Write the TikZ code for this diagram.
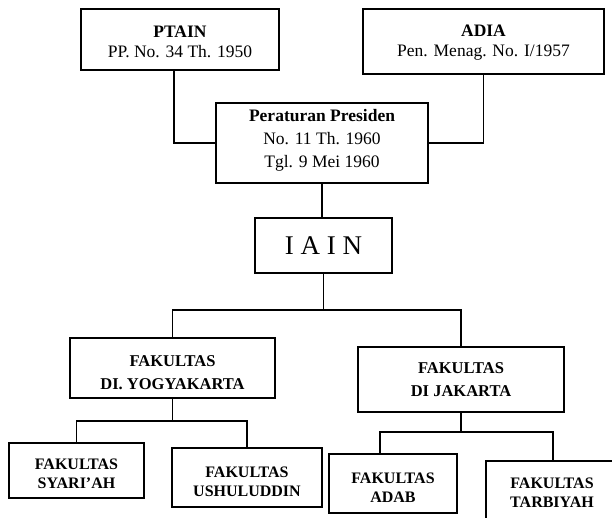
\documentclass[tikz,border=0pt]{standalone}
\usepackage{fontspec}
\setmainfont{Liberation Serif}
\begin{document}
\begin{tikzpicture}[x=1pt,y=-1pt,
  box/.style={draw, line width=1.5pt, rectangle, inner sep=0pt},
  txt/.style={align=center, inner sep=0pt},
  link/.style={line width=1.5pt},
  toptxt/.style={txt, font=\fontsize{17.5}{20}\selectfont},
  perptxt/.style={txt, font=\fontsize{17.5}{23}\selectfont},
  midtxt/.style={txt, font=\fontsize{16.5}{23}\selectfont\bfseries},
  bottxt/.style={txt, font=\fontsize{16}{19}\selectfont\bfseries}]
\useasboundingbox (0,0) rectangle (612,517);
\clip (0,0) rectangle (612,517);
% boxes
\node[box, minimum width=198pt, minimum height=61pt] (ptain) at (180,39.5) {};
\node[box, minimum width=241pt, minimum height=65pt] (adia) at (483.5,41.5) {};
\node[box, minimum width=212pt, minimum height=80pt] (perpres) at (322,143) {};
\node[box, minimum width=137pt, minimum height=55pt] (iain) at (323.5,245.5) {};
\node[box, minimum width=205pt, minimum height=60pt] (yogya) at (172.5,368) {};
\node[box, minimum width=206pt, minimum height=65pt] (jakarta) at (461,379.5) {};
\node[box, minimum width=135pt, minimum height=55pt] (syariah) at (76.5,470.5) {};
\node[box, minimum width=150pt, minimum height=59pt] (ushul) at (247,477.5) {};
\node[box, minimum width=128pt, minimum height=59pt] (adab) at (393,483.5) {};
\node[box, minimum width=134pt, minimum height=64pt] (tarbiyah) at (553,493) {};
% texts
\node[toptxt] (ptain-t) at ([yshift=-2.5pt]ptain.center) {\textbf{PTAIN}\\PP. No. 34 Th. 1950};
\node[toptxt] (adia-t) at ([yshift=-1pt]adia.center) {\textbf{ADIA}\\Pen. Menag. No. I/1957};
\node[perptxt] (perpres-t) at ([yshift=3pt]perpres.center) {\textbf{Peraturan Presiden}\\No. 11 Th. 1960\\Tgl. 9 Mei 1960};
\node[txt, font=\fontsize{27}{30}\selectfont\addfontfeature{LetterSpace=25}] (iain-t) at (iain.center) {IAIN};
\node[midtxt] (yogya-t) at ([yshift=-5pt]yogya.center) {FAKULTAS\\DI. YOGYAKARTA};
\node[midtxt] (jakarta-t) at (jakarta.center) {FAKULTAS\\DI JAKARTA};
\node[bottxt] (syariah-t) at ([yshift=-3pt]syariah.center) {FAKULTAS\\SYARI'AH};
\node[bottxt] (ushul-t) at ([yshift=-4.5pt]ushul.center) {FAKULTAS\\USHULUDDIN};
\node[bottxt] (adab-t) at ([yshift=-4pt]adab.center) {FAKULTAS\\ADAB};
\node[bottxt] (tarbiyah-t) at ([xshift=-1pt]tarbiyah.center) {FAKULTAS\\TARBIYAH};
% junctions
\coordinate (bus1) at (323,310);
\coordinate (bus2) at (173,421);
\coordinate (bus3) at (461,432);
% connectors
\draw[link] ([xshift=-6pt]ptain.south) |- (perpres.west);
\draw[link] (adia.south) |- (perpres.east);
\draw[link] (perpres.south) -- (perpres.south |- iain.north);
\draw[link] (iain.south) -- (iain.south |- bus1);
\draw[link] (yogya.north) |- (bus1) -| (jakarta.north);
\draw[link] (yogya.south) -- (yogya.south |- bus2);
\draw[link] (syariah.north) |- (bus2) -| (ushul.north);
\draw[link] (jakarta.south) -- (jakarta.south |- bus3);
\draw[link] ([xshift=-13pt]adab.north) |- (bus3) -| (tarbiyah.north);
\end{tikzpicture}
\end{document}
